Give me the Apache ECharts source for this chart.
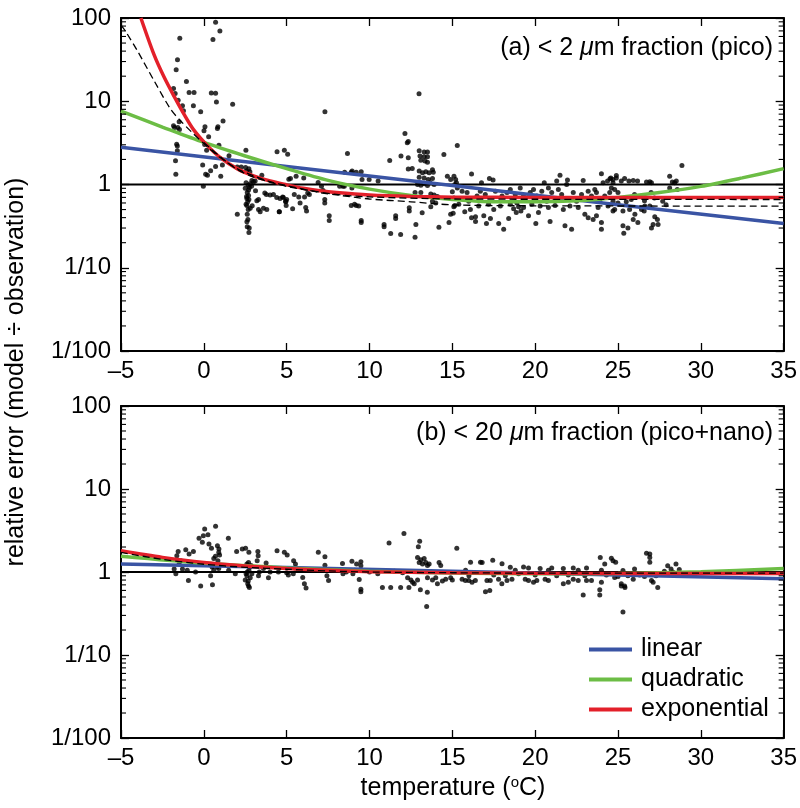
<!DOCTYPE html>
<html><head><meta charset="utf-8">
<script src="https://cdn.jsdelivr.net/npm/echarts@6/dist/echarts.min.js"></script>
<style>html,body{margin:0;padding:0;background:#fff}#c{width:800px;height:808px}</style>
</head><body><div id="c"></div>
<script>
const xTicks = [-5, 0, 5, 10, 15, 20, 25, 30, 35];
const yMin = 0.01, yMax = 100;
const yMinorTicks = [0.02,0.03,0.04,0.05,0.06,0.07,0.08,0.09,0.2,0.3,0.4,0.5,0.6,0.7,0.8,0.9,2,3,4,5,6,7,8,9,20,30,40,50,60,70,80,90];
const refLine = [[-5, 1], [35, 1]];
const panelLabels = ['(a) < 2 {it|μ}m fraction (pico)', '(b) < 20 {it|μ}m fraction (pico+nano)'];
const yTitle = 'relative error (model ÷ observation)';
const xTitle = 'temperature ({sup|o}C)';
const legendNames = ['linear', 'quadratic', 'exponential'];

// panel (a) observations
const aDots = [
[-1.45,57],[0.71,89],[0.97,70],[0.55,55],[-1.59,31.6],[-1.67,23.9],[-1.05,17.3],[-1.83,14.2],[-1.73,12.4],[-0.89,12.7],[-0.59,12.7],[-1.55,10.3],[0.45,12.6],[0.71,12.5],[0.76,9.8],[-0.63,8.8],[-1.29,8.8],[1.74,9.2],[-0.19,7.5],[-1.23,7.7],
[-1.83,5.07],[-1.77,4.84],[-1.49,5.66],[-1.57,4.84],[-1.47,4.58],[0.07,4.93],[0.01,4.42],[0.85,4.93],[0.82,4.7],[1.16,5.8],[0.29,3.74],[-1.6,2.9],[-1.64,3.05],[-1.6,2.54],[-1.71,1.93],[-1.69,1.33],[0.05,3.02],[0.17,2.58],[0.91,2.97],[-0.07,1.71],[0.11,1.33],[0.22,1.29],[0.41,1.46],[0.71,1.64],[1.02,1.26],[1.12,1.71],[1.52,2.21],[-0.03,0.95],[2.54,2.58],
[2.02,1.62],[2.26,1.62],[2.52,1.6],[2.72,1.55],[2.58,1.45],[2.78,1.42],[4.42,2.47],[4.86,2.58],[5.06,2.31],[3.5,1.29],[2.9,1.12],[3.0,1.08],[3.1,1.1],
[2.72,0.265],[2.62,0.31],[2.74,0.30],[2.6,0.356],[2.02,0.44],[2.62,0.44],[2.68,0.5],[2.6,0.56],[2.65,0.62],[2.6,0.68],[2.7,0.74],[2.62,0.8],[2.7,0.86],[2.75,0.92],[2.68,0.98],[2.8,1.02],[2.55,1.05],[2.88,0.95],[2.5,0.9],[2.58,0.72],[2.72,0.66],[2.55,0.58],[2.8,0.52],[2.66,0.38],[2.92,0.555],[3.2,0.64],[3.3,0.5],[3.4,0.47],[3.12,0.84],[3.68,0.79],[3.78,0.76],[4.4,0.70],[4.6,0.68],[4.8,0.7],[4.95,0.62],[5.0,0.66],[4.55,0.47],[5.13,1.16],[3.3,0.66],[3.6,0.52],[3.8,0.5],[4.0,0.75],[4.2,0.76],
[7.31,7.47],[12.99,12.3],[8.67,2.36],[12.14,4.1],[12.34,3.29],[12.28,3.17],
[13.0,2.55],[13.3,2.45],[13.5,2.45],[13.05,2.2],[13.3,2.15],[13.5,2.15],[13.1,1.95],[13.35,1.92],[13.5,1.85],
[14.49,2.29],[15.3,2.94],[11.22,1.94],[11.9,2.2],[12.34,2.1],[12.34,1.54],[12.58,1.56],
[13.0,1.45],[13.2,1.38],[13.4,1.42],[13.6,1.38],[13.8,1.5],[13.85,1.4],[13.0,1.22],[13.3,1.2],[13.55,1.15],[13.8,1.18],
[12.9,1.0],[13.1,0.98],[13.3,1.02],[13.5,0.97],[13.65,1.05],[13.9,1.0],[13.7,0.77],[13.9,0.75],[14.1,0.72],[12.75,0.8],[13.1,0.8],[13.8,0.63],[14.0,0.6],[13.7,0.54],
[12.4,0.525],[12.4,0.48],[13.18,0.457],[12.8,0.33],[12.75,0.233],[14.19,0.307],[14.8,0.35],[14.9,0.44],[15.05,0.45],[15.0,0.82],[15.1,0.69],[15.15,0.56],[14.7,1.26],[14.9,1.15],
[11.58,0.42],[11.58,0.39],[10.88,0.33],[10.88,0.31],[11.28,0.258],[11.88,0.25],[9.5,0.37],[9.5,0.35],[7.57,0.42],[7.57,0.37],
[8.9,0.56],[9.2,0.56],[9.35,0.55],[9.1,0.58],[8.95,1.45],[9.2,1.4],[9.5,1.42],[9.55,1.15],[8.5,1.4],[8.9,1.4],[8.48,0.95],[8.94,0.91],[8.2,0.95],[8.4,0.95],
[6.9,1.06],[7.1,0.95],[7.2,0.85],[7.3,0.66],[7.3,0.6],[6.08,0.71],[6.15,0.53],[6.2,0.48],[5.36,0.51],[5.46,0.76],[5.73,0.71],[5.81,0.6],[4.56,0.47],[4.76,0.71],[4.93,0.63],[4.97,0.56],
[5.23,1.18],[5.57,1.26],[6.03,1.2],[6.27,0.79],[6.37,0.76],[10.52,1.1],[9.98,1.15],
[15.1,1.26],[15.2,1.15],[15.15,1.0],[15.25,1.05],[15.3,0.91],[16.16,1.34],[16.76,1.05],[17.24,1.18],[17.46,1.13],
[15.09,0.54],[15.75,0.47],[16.09,0.5],[16.16,0.4],[16.4,0.41],[16.4,0.36],[16.9,0.42],[17.06,0.34],[17.3,0.39],[17.8,0.34],[18.1,0.29],[18.4,0.39],
[18.7,0.51],[19.0,0.54],[18.86,0.46],[19.14,0.48],[19.6,0.42],[20.04,0.34],[20.2,0.46],[20.9,0.36],[21.8,0.32],[22.2,0.29],
[21.5,1.29],[21.3,1.1],[21.95,1.13],[21.9,1.0],[20.55,1.05],[20.8,0.91],[21.4,0.87],
[22.9,1.12],[23.2,0.83],[23.6,0.87],[23.0,0.44],[23.2,0.40],[23.5,0.38],[23.7,0.42],
[24.0,1.35],[24.1,1.05],[24.37,1.1],[24.57,1.2],[24.7,1.05],[24.0,0.29],[24.0,0.35],[24.9,1.28],
[15.59,0.83],[15.89,0.80],[16.49,0.73],[16.69,0.83],[16.99,0.76],[17.6,0.83],[18.0,0.73],[18.3,0.80],[18.5,0.87],[18.8,0.76],[19.1,0.91],[19.3,0.73],[19.7,0.80],[19.9,0.87],[20.1,0.73],[20.4,0.83],[20.7,0.63],[21.0,0.80],[21.2,0.66],[21.6,0.76],[22.0,0.66],[22.3,0.80],[22.5,0.63],[22.8,0.76],[23.1,0.66],[23.4,0.73],[23.7,0.80],[23.9,0.63],[24.2,0.73],[24.5,0.80],[24.7,0.63],
[15.39,0.58],[15.99,0.63],[16.59,0.55],[17.19,0.58],[17.5,0.50],[17.9,0.55],[18.5,0.58],[18.9,0.60],[19.3,0.53],[19.8,0.58],[20.3,0.55],[20.8,0.53],[21.2,0.56],[21.7,0.50],[22.1,0.55],[22.6,0.53],[23.8,0.53],[24.4,0.55],[24.8,0.50],
[24.52,1.17],[24.7,1.15],[24.9,1.2],[25.2,1.1],[25.4,1.18],[25.66,1.1],[25.92,1.12],[26.18,1.1],[26.72,1.07],[26.92,1.08],[27.02,1.05],[28.12,1.26],[28.28,1.07],[28.42,1.05],[28.52,1.1],[28.58,0.87],[28.12,0.91],[24.6,0.91],[24.8,0.87],[25.0,0.80],
[25.3,0.32],[25.35,0.26],[25.6,0.30],[25.92,0.38],[26.02,0.44],[26.2,0.35],[26.42,0.50],[26.58,0.48],[27.02,0.30],[27.12,0.33],[27.42,0.33],[27.38,0.38],[27.22,0.41],[26.62,0.55],[26.92,0.55],[24.7,0.48],[25.0,0.60],[25.3,0.48],[25.7,0.50],[27.2,0.69],[27.7,0.63],[27.9,0.57],[28.86,1.69],[26.0,0.76],[26.4,0.72],[25.8,0.66],[27.0,0.80],[25.5,0.62],[26.6,0.64]
];

// panel (a) fitted curves
const aLinear = [[-5,2.8],[5,1.65],[15,0.97],[25,0.57],[35,0.34]];
const aQuadratic = [[-5,7.6],[-2.5,4.9],[0,3.2],[2.5,2.2],[5,1.55],[7.5,1.12],[10,0.88],[12.5,0.74],[15,0.66],[17.5,0.62],[20,0.62],[22.5,0.64],[25,0.7],[27.5,0.8],[30,0.95],[32.5,1.2],[35,1.55]];
const aExponential = [[-3.8,100],[-3,36],[-2.4,19.5],[-1.8,11.5],[-1.2,7.0],[-0.6,4.5],[0.2,2.95],[1,2.1],[2,1.55],[3,1.27],[4,1.1],[5,0.99],[6,0.9],[7,0.84],[8,0.8],[10,0.75],[12.5,0.72],[15,0.705],[20,0.7],[35,0.7]];
const aDashed1 = [[-5,82],[-4.7,68],[-4,40],[-3,17.6],[-2,8.0],[-1.4,5.8],[-0.7,4.2],[0,3.1],[1,2.1],[2,1.55],[3,1.27],[4,1.08],[5,0.97],[6,0.88],[7,0.8],[8,0.75],[10,0.67],[12.5,0.62],[15,0.57],[20,0.555],[35,0.55]];
const aDashed2 = [[0,3.2],[1,2.15],[2,1.52],[3,1.23],[5,0.95],[8,0.76],[10,0.71],[15,0.67],[20,0.665],[35,0.66]];

// panel (b) observations
const bDots = [
[0.71,3.55],[0.05,3.3],[-0.03,2.74],[0.25,2.81],[-0.29,2.55],[-0.09,2.28],[0.31,2.17],[0.46,1.93],[0.82,2.07],[0.91,1.89],[1.48,2.55],
[0.9,1.72],[0.95,1.6],[0.7,1.55],[0.6,1.45],[0.85,1.37],
[-1.55,1.76],[-1.63,1.57],[-1.09,1.86],[-0.63,1.76],[-0.89,1.65],[-1.39,1.37],[-1.49,1.25],[-1.79,1.09],[-1.69,0.95],[-1.29,1.09],[-0.93,0.79],[-0.19,0.68],[0.52,0.7],[0.41,0.9],
[1.98,1.76],[2.32,1.89],[2.52,1.93],[2.72,1.73],[3.26,1.76],[3.28,1.57],[3.22,1.37],[3.76,1.28],[4.42,1.8],[4.86,1.73],[5.03,1.6],[5.42,1.37],[5.53,1.25],
[2.5,0.8],[2.6,0.9],[2.65,0.72],[2.7,0.68],[2.75,0.65],[2.8,0.85],[2.62,1.0],[2.72,1.05],[2.78,1.15],[2.6,1.25],[2.7,1.3],[2.85,1.2],[2.55,0.95],[2.9,0.95],[2.68,0.78],
[3.3,0.9],[3.35,1.0],[3.6,1.1],[4.0,1.0],[0.5,1.15],[0.6,1.05],[0.8,1.15],[0.9,1.1],
[5.0,0.98],[5.1,0.92],[5.4,0.95],[5.5,1.12],[5.7,1.05],[1.5,1.05],[1.9,0.95],[-0.5,1.0],[-1.0,1.05],[4.5,1.0],[3.9,0.85],
[11.18,2.23],[12.08,2.9],[13.03,2.34],[12.95,2.02],
[12.9,1.5],[13.1,1.4],[13.3,1.45],[13.4,1.3],[13.2,1.25],[13.0,1.3],[13.5,1.2],[13.6,1.25],
[15.27,1.93],[6.91,1.73],[7.31,1.53],[7.31,1.21],[7.43,0.9],[7.53,0.79],
[8.37,1.27],[8.94,1.35],[9.22,1.25],[9.48,1.33],[9.48,1.19],[9.38,0.81],[9.48,0.62],[9.48,0.58],
[5.97,0.86],[6.07,0.72],[6.17,0.64],[10.78,0.65],[11.28,0.65],[11.88,0.65],[12.38,0.65],
[12.3,0.85],[12.5,0.8],[12.6,0.75],[12.7,0.72],[12.9,0.8],[13.07,0.61],[13.49,0.57],[13.45,0.385],
[13.5,0.85],[13.8,0.8],[14.0,0.85],[14.1,0.72],[14.4,0.78],[14.6,0.82],[14.9,0.85],[15.0,0.8],[14.2,1.3],[14.3,1.2],
[8.4,0.95],[8.6,1.0],[9.0,0.95],[9.1,1.05],[10.0,1.0],[10.5,0.95],[11.5,1.02],[12.0,0.98],
[16.1,1.31],[16.7,1.31],[16.8,1.3],[17.44,1.39],[18.0,1.26],[18.5,1.14],[19.3,1.15],[19.6,1.12],[20.3,1.1],[21.0,1.12],[21.7,1.1],[22.3,1.12],[23.1,1.12],
[17.0,0.58],[17.26,0.6],[22.9,0.53],[23.9,0.61],[23.9,0.53],[23.93,1.5],[24.2,1.25],[24.6,1.46],[24.7,1.37],[24.86,1.31],
[15.59,0.82],[15.79,0.79],[15.99,0.79],[16.19,0.75],[16.39,0.79],[17.09,0.79],[17.29,0.79],[17.79,0.82],[17.99,0.72],[18.3,0.79],[18.6,0.82],[19.4,0.82],[19.6,0.79],[19.9,0.75],[20.1,0.79],[20.6,0.82],[20.8,0.79],[21.7,0.72],[22.0,0.75],[22.3,0.82],[22.6,0.79],[23.1,0.79],[23.4,0.79],[24.0,0.75],[24.8,0.86],[25.2,0.72],[25.4,0.68],
[16.0,0.9],[17.5,0.92],[18.2,0.9],[19.0,0.95],[20.0,0.92],[21.3,0.9],[22.0,0.92],[23.0,0.9],[24.3,0.92],[25.0,0.95],[15.8,1.05],[18.8,1.05],[20.8,1.05],[22.6,1.05],[24.0,1.05],
[26.92,1.65],[26.92,1.5],[26.92,1.31],[26.72,1.68],[28.0,1.19],[28.5,1.25],[28.2,1.09],[28.7,1.07],[25.3,0.33],[25.2,0.68],[25.42,0.65],[25.92,0.82],[27.02,0.79],[27.12,0.75],[27.4,0.65],[25.3,1.04],[26.0,1.09],[25.6,0.9],[26.3,0.92],[26.6,0.88],[27.3,0.9],[27.8,1.02],[28.3,1.0],[25.0,0.88]
];

// panel (b) fitted curves
const bLinear = [[-5,1.25],[5,1.13],[15,1.02],[25,0.92],[35,0.83]];
const bQuadratic = [[-5,1.55],[0,1.28],[5,1.12],[10,1.02],[15,0.97],[20,0.95],[25,0.96],[30,1.01],[35,1.1]];
const bExponential = [[-5,1.8],[-2.5,1.5],[0,1.3],[2.5,1.18],[5,1.1],[7.5,1.05],[10,1.01],[15,0.98],[20,0.965],[35,0.96]];
const bDashed = [[-5,1.72],[-2.5,1.42],[0,1.24],[2.5,1.14],[5,1.08],[7.5,1.03],[10,1.0],[15,0.98],[20,0.97],[35,0.97]];

const FONT = 'Liberation Sans, Arial, Helvetica, sans-serif';
const FS = 24;      // tick labels
const FT = 25;      // titles, annotations, legend
const C_BLUE = '#3a54a4', C_GREEN = '#6cbd45', C_RED = '#e3202a';

const chart = echarts.init(document.getElementById('c'), null, {renderer: 'canvas'});

function xAx(grid, pos, labels) {
  return {
    type: 'value', gridIndex: grid, position: pos, min: xTicks[0], max: xTicks[xTicks.length - 1], interval: 5,
    axisLine: {show: true, onZero: false, lineStyle: {color: '#000', width: 2}},
    axisTick: {show: true, inside: true, length: 8, lineStyle: {color: '#000', width: 1.3}},
    axisLabel: {show: labels, margin: 8, color: '#000', fontSize: FS, fontFamily: FONT,
      formatter: v => String(v).replace('-', '\u2013')},
    splitLine: {show: false}
  };
}
function yAx(grid, pos, labels) {
  return {
    type: 'log', logBase: 10, gridIndex: grid, position: pos, min: yMin, max: yMax,
    axisLine: {show: true, onZero: false, lineStyle: {color: '#000', width: 2}},
    axisTick: {show: true, inside: true, length: 8, lineStyle: {color: '#000', width: 1.3}},
    axisLabel: {show: labels, margin: 10, color: '#000', fontSize: FS, fontFamily: FONT,
      formatter: v => { const e = Math.round(Math.log10(v)); return e < 0 ? '1/' + Math.pow(10, -e) : String(Math.pow(10, e)); }},
    splitLine: {show: false}
  };
}

function minorTicks(params, api) {
  const p = api.coord([xTicks[0], api.value(1)]);
  const cs = params.coordSys;
  const st = {stroke: '#000', lineWidth: 1.1};
  return {type: 'group', children: [
    {type: 'line', shape: {x1: cs.x, y1: p[1], x2: cs.x + 5, y2: p[1]}, style: st},
    {type: 'line', shape: {x1: cs.x + cs.width - 5, y1: p[1], x2: cs.x + cs.width, y2: p[1]}, style: st}
  ]};
}

function panelSeries(ai, dots, lin, quad, expo, dashed) {
  const s = [];
  s.push({type: 'custom', xAxisIndex: ai, yAxisIndex: ai, renderItem: minorTicks, data: yMinorTicks.map(v => [xTicks[0], v]), silent: true, z: 5});
  s.push({type: 'line', name: 'ref', xAxisIndex: ai, yAxisIndex: ai, data: refLine, symbol: 'none', lineStyle: {color: '#000', width: 2}, z: 2, silent: true});
  s.push({type: 'scatter', name: 'obs', xAxisIndex: ai, yAxisIndex: ai, data: dots, symbolSize: 5, itemStyle: {color: '#000'}, z: 3, silent: true});
  s.push({type: 'line', name: 'linear', xAxisIndex: ai, yAxisIndex: ai, data: lin, symbol: 'none', smooth: false, color: C_BLUE, lineStyle: {color: C_BLUE, width: 3.5}, z: 4});
  s.push({type: 'line', name: 'quadratic', xAxisIndex: ai, yAxisIndex: ai, data: quad, symbol: 'none', smooth: 0.3, color: C_GREEN, lineStyle: {color: C_GREEN, width: 3.5}, z: 4});
  s.push({type: 'line', name: 'exponential', xAxisIndex: ai, yAxisIndex: ai, data: expo, symbol: 'none', smooth: 0.3, color: C_RED, lineStyle: {color: C_RED, width: 3.5}, z: 4});
  dashed.forEach(d => s.push({type: 'line', name: 'dashed', xAxisIndex: ai, yAxisIndex: ai, data: d, symbol: 'none', smooth: 0.3, lineStyle: {color: '#000', width: 1.3, type: [7, 4]}, z: 4, silent: true}));
  return s;
}

const series = [].concat(
  panelSeries(0, aDots, aLinear, aQuadratic, aExponential, [aDashed1, aDashed2]),
  panelSeries(2, bDots, bLinear, bQuadratic, bExponential, [bDashed])
);

chart.setOption({
  animation: false,
  backgroundColor: '#fff',
  textStyle: {fontFamily: FONT},
  grid: [
    {left: 121, top: 18, width: 665, height: 333, show: false},
    {left: 121, top: 406, width: 665, height: 332, show: false}
  ],
  xAxis: [xAx(0, 'bottom', true), xAx(0, 'top', false), xAx(1, 'bottom', true), xAx(1, 'top', false)],
  yAxis: [yAx(0, 'left', true), yAx(0, 'right', false), yAx(1, 'left', true), yAx(1, 'right', false)],
  legend: {
    data: legendNames, orient: 'vertical', left: 584, top: 632, itemWidth: 43, itemHeight: 4, itemGap: 5,
    icon: 'rect', selectedMode: false,
    textStyle: {color: '#000', fontSize: FT, fontFamily: FONT, lineHeight: 25, padding: [0, 0, 0, 4]}
  },
  series: series,
  graphic: [
    {type: 'text', x: 773, y: 48, style: {text: panelLabels[0], align: 'right', verticalAlign: 'middle', fill: '#000', font: FT + 'px ' + FONT,
      rich: {it: {fontStyle: 'italic', fontSize: FT, fontFamily: FONT}}}},
    {type: 'text', x: 773, y: 433, style: {text: panelLabels[1], align: 'right', verticalAlign: 'middle', fill: '#000', font: FT + 'px ' + FONT,
      rich: {it: {fontStyle: 'italic', fontSize: FT, fontFamily: FONT}}}},
    {type: 'text', x: 16, y: 372, rotation: Math.PI / 2, style: {text: yTitle, align: 'center', verticalAlign: 'middle', fill: '#000', font: FT + 'px ' + FONT}},
    {type: 'text', x: 453, y: 788, style: {text: xTitle, align: 'center', verticalAlign: 'middle', fill: '#000', font: FT + 'px ' + FONT,
      rich: {sup: {fontSize: 15, fontFamily: FONT, verticalAlign: 'top', padding: [0, 0, 10, 0]}}}}
  ]
});
</script>
</body></html>
